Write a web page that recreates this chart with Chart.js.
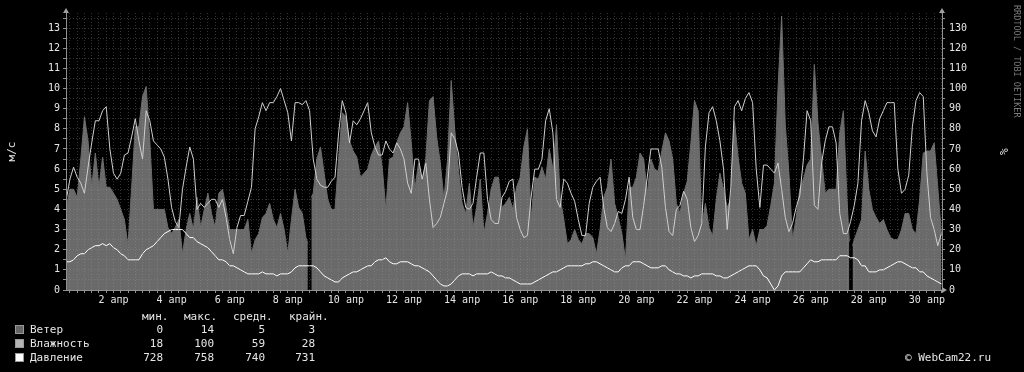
<!DOCTYPE html>
<html>
<head>
<meta charset="utf-8">
<script src="https://cdn.jsdelivr.net/npm/chart.js@4.4.1/dist/chart.umd.min.js"></script>
<style>
  html, body { margin: 0; padding: 0; background: #000; }
  #wrap { width: 1024px; height: 372px; }
</style>
</head>
<body>
<div id="wrap"><canvas id="chart" width="1024" height="372"></canvas></div>
<script>
// samples every 3 hours; time in days of April (2 = 2 апр 00:00)
const sampleStart = 0.375;
const sampleStep = 0.125;
const monthName = 'апр';

// wind, m/s (null = no data)
const wind = [
  4.1, 5.0, 5.0, 4.6, 6.5, 8.6, 7.4, 5.1, 6.8, 5.1, 6.6, 5.1, 5.1, 4.8, 4.5, 4.0,
  3.5, 2.2, 5.1, 8.1, 8.1, 9.6, 10.1, 7.4, 4.0, 4.0, 4.0, 4.0, 3.1, 2.8, 3.1, 3.5,
  1.8, 3.0, 3.8, 3.0, 4.6, 3.1, 4.0, 4.8, 3.8, 3.1,
  4.8, 5.0, 4.1, 3.0, 3.0, 3.0, 3.0, 3.0, 3.5, 1.8, 2.5, 2.8, 3.6, 3.8, 4.3, 3.5,
  3.1, 3.8, 3.0, 1.8, 3.5, 5.0, 4.1, 3.8, 2.6, null, 4.8, 6.5, 7.1, 5.8, 4.5, 4.0,
  4.0, 6.5, 8.8, 8.6, 7.4, 6.9, 6.6, 5.6, 5.8, 6.0,
  6.7, 7.1, 7.4, 6.1, 4.0, 6.5, 6.6, 7.3, 7.8, 8.1, 9.3, 7.3, 5.0, 6.3, 5.3, 6.5,
  9.4, 9.6, 7.6, 6.3, 4.5, 6.5, 10.4, 7.9, 6.0, 4.3, 3.8, 5.3, 3.1, 4.1, 5.5, 2.8,
  3.8, 5.0, 5.6, 5.6, 4.1, 4.3, 4.6, 4.0, 5.1,
  5.6, 7.1, 8.0, 3.5, 5.6, 5.5, 6.1, 5.5, 7.0, 6.0, 8.2, 4.6, 3.5, 2.3, 2.5, 3.0,
  2.5, 2.3, 2.8, 2.8, 2.6, 1.8, 3.0, 4.6, 5.1, 6.5, 4.3, 3.6, 2.8, 1.5, 5.1, 5.1,
  5.6, 6.8, 6.5, 4.8, 6.5, 6.0, 5.9, 6.9, 7.8,
  7.4, 6.5, 4.3, 3.8, 4.8, 5.4, 7.3, 9.4, 8.9, 3.1, 4.3, 3.1, 2.7, 4.5, 5.8, 5.0,
  4.1, 4.5, 8.4, 6.6, 5.3, 4.8, 2.5, 3.0, 2.2, 3.0, 3.0, 3.2, 4.2, 5.3, 10.0, 13.6,
  8.2, 5.8, 2.5, 3.6, 5.0, 5.5, 6.2, 6.5, 11.2,
  8.3, 6.5, 4.8, 5.0, 5.0, 5.0, 7.8, 8.9, 4.5, null, 2.5, 3.0, 3.5, 6.9, 5.0, 4.0,
  3.6, 3.3, 3.5, 3.0, 2.6, 2.5, 2.5, 3.0, 3.8, 3.8, 3.0, 2.8, 4.5, 6.8, 6.9, 6.9,
  7.3, 5.1, 2.8
];
// wind read right at the edges of the two no-data periods: [day, m/s]
const windGapEdges = [[8.69, 2.3], [8.81, 4.6], [27.33, 2.4], [27.44, 2.2]];

// humidity, %
const humidity = [
  45, 55, 61, 56, 53, 48, 61, 73, 84, 84, 89, 91, 70, 58, 55, 58,
  67, 68, 76, 85, 74, 65, 89, 84, 74, 72, 70, 66, 55, 41, 34, 31,
  50, 61, 71, 65, 40, 43, 41, 43, 45, 45,
  41, 45, 36, 25, 18, 31, 37, 37, 44, 51, 80, 86, 93, 89, 93, 93,
  96, 100, 94, 88, 74, 93, 93, 92, 94, 89, 65, 55, 52, 51, 51, 54,
  56, 78, 94, 88, 73, 84, 82, 85, 89, 93,
  78, 71, 67, 67, 74, 70, 68, 73, 70, 65, 53, 48, 65, 65, 55, 63,
  45, 31, 33, 36, 43, 50, 78, 75, 68, 51, 41, 40, 43, 56, 68, 68,
  45, 35, 33, 33, 46, 49, 54, 55, 36,
  30, 26, 27, 46, 60, 60, 65, 84, 90, 78, 45, 41, 55, 53, 48, 44,
  35, 27, 27, 43, 51, 54, 56, 41, 31, 29, 33, 39, 38, 45, 56, 36,
  30, 30, 42, 56, 70, 70, 70, 61, 41,
  29, 27, 40, 42, 49, 45, 31, 24, 27, 33, 71, 88, 91, 84, 74, 60,
  30, 51, 91, 94, 89, 95, 98, 93, 60, 41, 62, 62, 60, 58, 63, 50,
  36, 29, 33, 41, 47, 65, 89, 84, 42,
  40, 63, 74, 81, 81, 73, 38, 28, 28, 34, 42, 53, 84, 94, 88, 79,
  76, 85, 89, 93, 93, 93, 60, 48, 50, 57, 81, 94, 98, 96, 58, 36,
  30, 22, 28
];

// pressure, mm Hg
const pressure = [
  742, 742, 743, 745, 746, 746, 748, 749, 750, 750, 751, 750, 751, 749, 748, 746,
  745, 743, 743, 743, 743, 746, 748, 749, 750, 752, 754, 756, 757, 758, 758, 758,
  758, 756, 754, 754, 752, 751, 750, 749, 747, 745,
  743, 743, 742, 740, 740, 739, 738, 737, 736, 736, 736, 736, 737, 736, 736, 736,
  735, 736, 736, 736, 737, 739, 740, 740, 740, 740, 740, 739, 737, 735, 734, 733,
  732, 732, 734, 735, 736, 737, 737, 738, 739, 740,
  740, 742, 743, 743, 744, 742, 741, 741, 742, 742, 742, 741, 740, 740, 739, 738,
  737, 735, 733, 731, 730, 730, 731, 733, 735, 736, 736, 736, 735, 736, 736, 736,
  736, 737, 736, 735, 735, 734, 734, 733, 732,
  731, 731, 731, 731, 732, 733, 734, 735, 736, 737, 737, 738, 739, 740, 740, 740,
  740, 740, 741, 741, 742, 742, 741, 740, 739, 738, 737, 737, 739, 740, 740, 742,
  742, 742, 741, 740, 739, 739, 739, 740, 740,
  738, 737, 736, 736, 735, 735, 734, 735, 735, 736, 736, 736, 736, 735, 735, 734,
  734, 735, 736, 737, 738, 739, 740, 740, 740, 738, 735, 734, 731, 728, 730, 735,
  737, 737, 737, 737, 737, 739, 741, 743, 742,
  742, 743, 743, 743, 743, 743, 745, 745, 745, 744, 744, 743, 740, 740, 737, 737,
  737, 738, 738, 739, 740, 741, 742, 742, 741, 740, 739, 739, 737, 737, 735, 734,
  733, 732, 731
];

// legend table
const seriesNames = ['Ветер', 'Влажность', 'Давление'];
const seriesColors = ['#666666', '#b4b4b4', '#ffffff'];
const statHeaders = ['мин.', 'макс.', 'средн.', 'крайн.'];
const statMin = [0, 18, 728];
const statMax = [14, 100, 758];
const statAvg = [5, 59, 740];
const statLast = [3, 28, 731];

const times = wind.map((_, i) => sampleStart + i * sampleStep);
const pts = (arr) => arr.map((v, i) => ({ x: times[i], y: v }));
const windPoints = pts(wind)
  .concat(windGapEdges.map((e) => ({ x: e[0], y: e[1] })))
  .sort((a, b) => a.x - b.x);

const FONT = 'DejaVu Sans Mono';
const gridColor = 'rgba(160,160,160,0.32)';

const background = {
  id: 'background',
  beforeDraw(chart) {
    const c = chart.ctx;
    c.save();
    c.fillStyle = '#000';
    c.fillRect(0, 0, chart.width, chart.height);
    c.restore();
  }
};

const decorations = {
  id: 'decorations',
  afterDraw(chart) {
    const c = chart.ctx;
    const a = chart.chartArea;
    c.save();
    // axis arrows
    c.fillStyle = '#a0a0a0';
    const tri = (p) => { c.beginPath(); c.moveTo(p[0], p[1]); c.lineTo(p[2], p[3]); c.lineTo(p[4], p[5]); c.closePath(); c.fill(); };
    tri([a.left - 3, a.top, a.left + 3, a.top, a.left, a.top - 5]);
    tri([a.right - 3, a.top, a.right + 3, a.top, a.right, a.top - 5]);
    tri([a.right, a.bottom - 3, a.right, a.bottom + 3, a.right + 5, a.bottom]);

    // vertical signature
    c.fillStyle = '#7a7a7a';
    c.font = '8.5px "' + FONT + '"';
    c.textBaseline = 'middle';
    c.textAlign = 'left';
    c.save();
    c.translate(1016, 5);
    c.rotate(Math.PI / 2);
    c.fillText('RRDTOOL / TOBI OETIKER', 0, 0);
    c.restore();

    // legend
    c.font = '11px "' + FONT + '"';
    c.fillStyle = '#e6e6e6';
    const headerX = [142, 184, 233, 289];
    statHeaders.forEach((h, i) => c.fillText(h, headerX[i], 317));
    const colX = [163, 214, 265, 315];
    const rowY = [330, 344, 358];
    seriesNames.forEach((name, r) => {
      const y = rowY[r];
      c.fillStyle = seriesColors[r];
      c.fillRect(16, y - 4, 7, 7);
      c.strokeStyle = '#9a9a9a';
      c.lineWidth = 1;
      c.strokeRect(15.5, y - 4.5, 8, 8);
      c.fillStyle = '#e6e6e6';
      c.textAlign = 'left';
      c.fillText(name, 30, y);
      c.textAlign = 'right';
      [statMin[r], statMax[r], statAvg[r], statLast[r]].forEach((v, k) => c.fillText(String(v), colX[k], y));
    });
    c.textAlign = 'left';
    c.fillText('© WebCam22.ru', 905, 358);
    c.restore();
  }
};

new Chart(document.getElementById('chart'), {
  type: 'line',
  data: {
    datasets: [
      {
        label: 'Давление',
        data: pts(pressure),
        yAxisID: 'yp',
        borderColor: '#ffffff',
        borderWidth: 1,
        pointRadius: 0,
        fill: false,
        tension: 0,
        order: 1
      },
      {
        label: 'Влажность',
        data: pts(humidity),
        yAxisID: 'y2',
        borderColor: '#cfcfcf',
        borderWidth: 1,
        pointRadius: 0,
        fill: false,
        tension: 0,
        order: 2
      },
      {
        label: 'Ветер',
        data: windPoints,
        yAxisID: 'y',
        borderColor: '#6a6a6a',
        backgroundColor: '#6a6a6a',
        borderWidth: 1,
        pointRadius: 0,
        fill: 'origin',
        tension: 0,
        order: 3
      }
    ]
  },
  options: {
    responsive: false,
    animation: false,
    layout: { padding: { top: 13, left: 0, right: 0, bottom: 0 } },
    plugins: { legend: { display: false }, tooltip: { enabled: false } },
    scales: {
      x: {
        type: 'linear',
        min: 0.365,
        max: 30.52,
        afterFit: (s) => { s.height = 82; },
        grid: { color: gridColor, z: 1, tickLength: 3, tickColor: '#909090' },
        border: { color: '#909090', dash: [1, 2], z: 1 },
        ticks: {
          stepSize: 0.25,
          autoSkip: false,
          maxRotation: 0,
          minRotation: 0,
          includeBounds: false,
          padding: 1,
          color: '#e6e6e6',
          font: { family: FONT, size: 10 },
          callback: (v) => (Number.isInteger(v) && v % 2 === 0) ? v + ' ' + monthName : ''
        }
      },
      y: {
        position: 'left',
        min: 0,
        max: 13.75,
        afterFit: (s) => { s.width = 66; },
        grid: { color: gridColor, z: 1, tickLength: 3, tickColor: '#909090' },
        border: { color: '#909090', dash: [1, 2], z: 1 },
        title: { display: true, text: 'м/с', color: '#e6e6e6', font: { family: FONT, size: 11 }, padding: { top: 6, bottom: 0 } },
        ticks: {
          stepSize: 0.5,
          autoSkip: false,
          includeBounds: false,
          padding: 3,
          color: '#e6e6e6',
          font: { family: FONT, size: 10 },
          callback: (v) => Number.isInteger(v) ? String(v) : ''
        }
      },
      y2: {
        position: 'right',
        min: 0,
        max: 137.5,
        afterFit: (s) => { s.width = 82; },
        grid: { drawOnChartArea: false, tickLength: 3, color: '#909090', z: 1 },
        border: { color: '#909090', z: 1 },
        title: { display: true, text: '%', color: '#e6e6e6', font: { family: FONT, size: 11 }, padding: { top: 15, bottom: 0 } },
        ticks: {
          stepSize: 5,
          autoSkip: false,
          includeBounds: false,
          padding: 4,
          color: '#e6e6e6',
          font: { family: FONT, size: 10 },
          callback: (v) => v % 10 === 0 ? String(v) : ''
        }
      },
      yp: {
        display: false,
        min: 728,
        max: 865.5
      }
    }
  },
  plugins: [background, decorations]
});
</script>
</body>
</html>
